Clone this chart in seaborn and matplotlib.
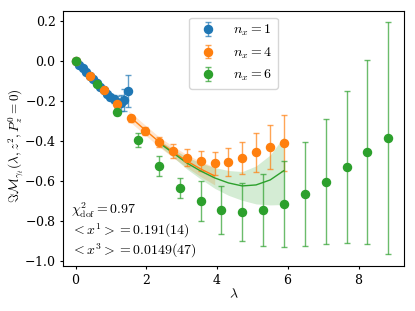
import numpy as np
import pandas as pd
import matplotlib
matplotlib.use('Agg')
import matplotlib.pyplot as plt
import seaborn as sns

# data
lam_n1 = [0, 0.098, 0.196, 0.295, 0.393, 0.491, 0.589, 0.687, 0.785, 0.884,
          0.982, 1.08, 1.18, 1.28, 1.37, 1.47]
val_n1 = [0, -0.018, -0.036, -0.055, -0.073, -0.092, -0.11, -0.128, -0.147,
          -0.165, -0.18, -0.19, -0.205, -0.21, -0.195, -0.15]
err_n1 = [0, 0.002, 0.003, 0.004, 0.005, 0.006, 0.007, 0.008, 0.009, 0.011,
          0.014, 0.02, 0.03, 0.04, 0.055, 0.08]

lam_n4 = [0, 0.393, 0.785, 1.18, 1.57, 1.96, 2.36, 2.75, 3.14, 3.53, 3.93,
          4.32, 4.71, 5.10, 5.50, 5.89]
val_n4 = [0, -0.075, -0.145, -0.217, -0.287, -0.348, -0.407, -0.45, -0.483,
          -0.50, -0.512, -0.507, -0.485, -0.457, -0.43, -0.41]
err_n4 = [0, 0.005, 0.008, 0.012, 0.016, 0.02, 0.025, 0.037, 0.043, 0.05,
          0.058, 0.07, 0.08, 0.098, 0.11, 0.14]

lam_n6 = [0, 0.589, 1.18, 1.77, 2.36, 2.95, 3.53, 4.12, 4.71, 5.30, 5.89,
          6.48, 7.07, 7.66, 8.25, 8.84]
val_n6 = [0, -0.117, -0.253, -0.395, -0.523, -0.635, -0.70, -0.745, -0.757,
          -0.745, -0.714, -0.667, -0.603, -0.53, -0.457, -0.387]
err_n6 = [0, 0.006, 0.015, 0.037, 0.05, 0.05, 0.098, 0.118, 0.145, 0.18,
          0.215, 0.26, 0.313, 0.378, 0.46, 0.58]

# fit curves
fit_lam4 = [1.5, 1.57, 1.96, 2.36, 2.75, 3.14, 3.53, 3.93]
fit_val4 = [-0.275, -0.285, -0.345, -0.405, -0.455, -0.50, -0.54, -0.575]
fit_err4 = [0.025, 0.025, 0.025, 0.025, 0.028, 0.032, 0.038, 0.045]

fit_lam6 = [2.36, 2.75, 3.14, 3.53, 3.93, 4.32, 4.71, 5.10, 5.50, 5.89]
fit_val6 = [-0.41, -0.46, -0.51, -0.55, -0.585, -0.61, -0.625, -0.62, -0.595, -0.548]
fit_err6 = [0.015, 0.02, 0.03, 0.04, 0.052, 0.062, 0.072, 0.095, 0.125, 0.17]

sns.set_style('ticks')
plt.rcParams['mathtext.fontset'] = 'cm'
plt.rcParams['font.family'] = ['DejaVu Serif']
plt.rcParams['axes.formatter.use_mathtext'] = True
plt.rcParams['text.color'] = 'black'
plt.rcParams['axes.labelcolor'] = 'black'
plt.rcParams['xtick.color'] = 'black'
plt.rcParams['ytick.color'] = 'black'
plt.rcParams['axes.edgecolor'] = 'black'

colors = sns.color_palette('tab10')

fig = plt.figure(figsize=(4.15, 3.11), dpi=100)
ax = fig.add_axes([0.151, 0.145, 0.823, 0.821])

sets = [(lam_n1, val_n1, err_n1, r'$n_x=1$'),
        (lam_n4, val_n4, err_n4, r'$n_x=4$'),
        (lam_n6, val_n6, err_n6, r'$n_x=6$')]
for i, (x, y, e, lab) in enumerate(sets):
    ax.errorbar(x, y, yerr=e, fmt='o', color=colors[i], ms=5.8,
                capsize=2, elinewidth=1, ecolor=(*colors[i], 0.7), label=lab)

fits = [(fit_lam4, fit_val4, fit_err4, colors[1]),
        (fit_lam6, fit_val6, fit_err6, colors[2])]
for x, y, e, c in fits:
    df = pd.DataFrame({'lam': x, 'val': y})
    sns.lineplot(data=df, x='lam', y='val', color=c, lw=1, ax=ax, legend=False)
    ax.fill_between(x, np.array(y) - np.array(e), np.array(y) + np.array(e),
                    color=c, alpha=0.2, lw=0)

ax.set_xlim(-0.37, 9.29)
ax.set_ylim(-1.025, 0.252)
ax.set_xticks([0, 2, 4, 6, 8])
ax.set_yticks([-1.0, -0.8, -0.6, -0.4, -0.2, 0.0, 0.2])
ax.set_xlabel(r'$\lambda$', fontsize=10, labelpad=0)
ax.set_ylabel(r'$\Im\mathcal{M}_{\gamma_t}(\lambda, z^2, P_z^0=0)$', fontsize=9.5)
ax.yaxis.set_label_coords(-0.108, 0.47)
ax.tick_params(labelsize=9, length=2.5, width=0.8, pad=2.5)

ax.text(0.025, 0.218, r'$\chi^2_{\rm dof}=0.97$', transform=ax.transAxes, va='center', fontsize=10)
ax.text(0.025, 0.136, r'$<x^1>=0.191(14)$', transform=ax.transAxes, va='center', fontsize=10)
ax.text(0.025, 0.058, r'$<x^3>=0.0149(47)$', transform=ax.transAxes, va='center', fontsize=10)

ax.legend(loc='upper center', fontsize=10, frameon=True, borderaxespad=0.5)

fig.savefig('out.png', dpi=100)
